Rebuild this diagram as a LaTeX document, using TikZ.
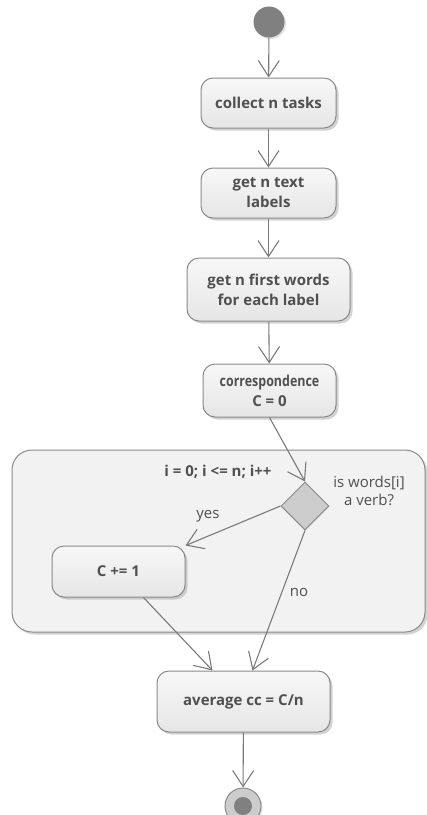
\documentclass[tikz,border=0pt]{standalone}
\usepackage{fontspec}
\usepackage{graphicx}
\setmainfont{Open Sans}
\usetikzlibrary{arrows.meta,shapes.geometric,shadows}
\definecolor{txt}{HTML}{505050}
\definecolor{edge}{HTML}{7A7A7A}
\definecolor{bord}{HTML}{8A8A8A}
\begin{document}
\begin{tikzpicture}[x=1pt,y=-1pt,
  every node/.style={text=txt},
  act/.style={draw=bord, line width=1pt, rounded corners=12pt, top color=black!3, bottom color=black!10,
    align=center, font=\fontsize{15}{20}\selectfont\bfseries, inner sep=0pt,
    drop shadow={shadow xshift=2.5pt, shadow yshift=-2.5pt, fill=black!35, opacity=0.5}},
  flow/.style={draw=edge, line width=1.1pt, -{Straight Barb[length=16pt,width=21pt,line width=1.1pt]}},
  lbl/.style={font=\fontsize{15}{16}\selectfont, align=center, inner sep=0pt}
]
\useasboundingbox (0,0) rectangle (427,815);
% loop region
\node[draw=bord, line width=1pt, rounded corners=20pt, fill=black!5, minimum width=413pt, minimum height=182pt, inner sep=0pt,
  drop shadow={shadow xshift=2.5pt, shadow yshift=-2.5pt, fill=black!35, opacity=0.5}] (loop) at (218.5,541) {};
% start
\node[circle, fill=black!50, minimum size=31pt, inner sep=0pt,
  drop shadow={shadow xshift=1.5pt, shadow yshift=-1.5pt, fill=black!25, opacity=0.5}] (start) at (269,22) {};
\node[act, minimum width=135pt, minimum height=50pt] (b1) at (268.5,103) {collect n tasks};
\node[act, minimum width=135pt, minimum height=50pt] (b2) at (268.5,193) {get n text\\labels};
\node[act, minimum width=163pt, minimum height=63pt] (b3) at (268.5,289.5) {get n first words\\for each label};
\node[act, minimum width=133pt, minimum height=53pt] (b4) at (269.5,390.5) {\scalebox{0.83}[1]{correspondence}\\C = 0};
\node[diamond, draw=bord, line width=1pt, fill=black!20, minimum size=48pt, inner sep=0pt] (dia) at (305,506) {};
\node[act, minimum width=133pt, minimum height=51pt] (c1) at (118.5,571.5) {C += 1};
\node[act, minimum width=173pt, minimum height=61pt] (avg) at (243.5,701.5) {average cc = C/n};
% end
\node[circle, draw=bord, line width=1pt, fill=black!20, minimum size=36pt, inner sep=0pt,
  drop shadow={shadow xshift=1.5pt, shadow yshift=-1.5pt, fill=black!25, opacity=0.5}] (end) at (243,806) {};
\node[circle, fill=black!50, minimum size=18pt, inner sep=0pt] (endin) at (end.center) {};
% labels
\node[lbl, font=\fontsize{15}{16}\selectfont\bfseries] (cond) at (218,472) {i = 0; i <= n; i++};
\node[lbl, font=\fontsize{15}{18}\selectfont] (q) at (369,491) {is words[i]\\a verb?};
\node[lbl] (yes) at (208,516) {yes};
\node[lbl] (no) at (299,592) {no};
% connectors
\draw[flow] (start) -- (b1);
\draw[flow] (b1) -- (b2);
\draw[flow] (b2) -- (b3);
\draw[flow] (b3) -- (b4);
\draw[flow] (b4.south) -- (dia.north);
\draw[flow] (dia.west) -- (c1.north east);
\draw[flow] ([xshift=25pt]c1.south) -- ([xshift=-31pt]avg.north);
\draw[flow] (dia.south) -- ([xshift=9pt]avg.north);
\draw[flow] (avg) -- (end);
\end{tikzpicture}
\end{document}
